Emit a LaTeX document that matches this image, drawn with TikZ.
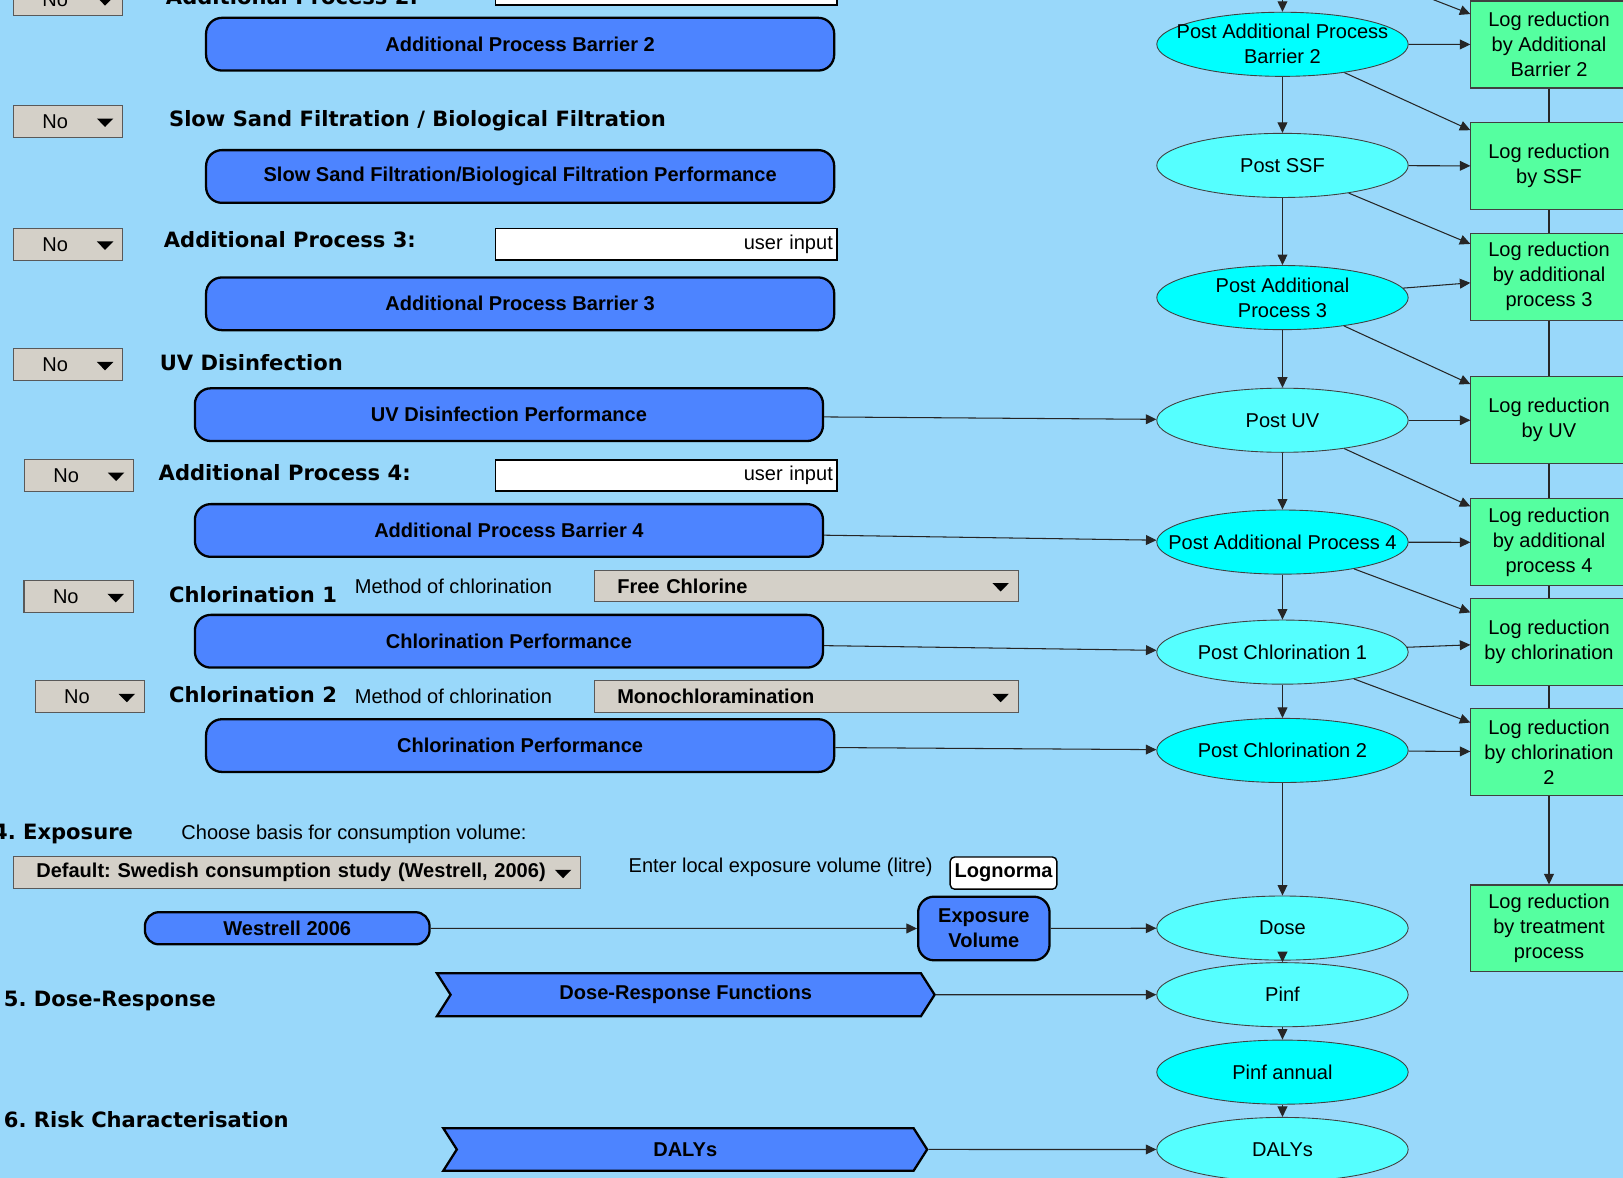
\documentclass[tikz,border=0pt]{standalone}
\usepackage{fontspec}
\setmainfont{Liberation Sans}
\newfontfamily\headfont{DejaVu Sans}
\usetikzlibrary{shapes.geometric,shapes.symbols,arrows.meta}

\definecolor{skyback}{RGB}{153,216,250}
\definecolor{perfblue}{RGB}{77,132,255}
\definecolor{cyanhi}{RGB}{0,255,255}
\definecolor{cyanlo}{RGB}{85,255,255}
\definecolor{logreen}{RGB}{85,255,160}
\definecolor{ddgrey}{RGB}{212,208,200}

\newcommand\txtsize{\fontsize{11.4}{14.2}\selectfont}
\newcommand\headsize{\fontsize{12}{14.4}\selectfont}

\tikzset{
  arr/.style={-{Triangle[length=6pt,width=5.6pt]},line width=0.6pt,black!85},
  link/.style={line width=0.6pt,black!85},
  perfbox/.style={draw,line width=1.3pt,fill=perfblue,rounded corners=9pt,
    minimum width=357.5pt,minimum height=30pt,inner sep=0pt,align=center,
    font=\txtsize\bfseries},
  fnbox/.style={signal,signal from=west,signal to=east,signal pointer angle=115,
    draw,line width=1.3pt,fill=perfblue,minimum height=24.5pt,inner sep=0pt,
    font=\txtsize\bfseries},
  postell/.style={ellipse,draw=black!75,line width=0.5pt,fill=#1,
    minimum width=143.1pt,minimum height=36.5pt,inner sep=0pt},
  elltxt/.style={align=center,inner sep=0pt,font=\txtsize},
  logred/.style={draw=black!75,line width=0.6pt,fill=logreen,minimum width=88.9pt,
    minimum height=49.5pt,inner sep=0pt,align=center,font=\txtsize},
  ddbox/.style={draw=black!65,line width=0.6pt,fill=ddgrey,minimum height=18pt,
    inner ysep=0pt,inner xsep=13pt,text width=#1,align=left,font=\txtsize,
    path picture={\fill[black] ([xshift=-14.7pt,yshift=1.6pt]path picture bounding box.east)
      -- ++(9.4pt,0) -- ++(-4.7pt,-4.8pt) -- cycle;}},
  inbox/.style={draw,line width=0.8pt,fill=white,minimum height=17.7pt,inner ysep=0pt,
    inner xsep=2.4pt,text width=189.6pt,align=right,font=\txtsize},
  headlbl/.style={anchor=base west,inner sep=0pt,font=\headsize\headfont\bfseries},
  plaintxt/.style={anchor=base west,inner sep=0pt,font=\txtsize},
}

\begin{document}
\frenchspacing
\begin{tikzpicture}[x=0.0207cm,y=-0.0207cm]
\useasboundingbox (0,0) rectangle (1568,1138);
\clip (0,0) rectangle (1568,1138);
\fill[skyback] (0,0) rectangle (1568,1138);

% treatment barriers
\node[ddbox=36.2pt] (dd2) at (65.7,0) {\hspace*{3.5pt}No};
\node[headlbl] (lb2) at (160,4.5) {Additional Process 2:};
\node[inbox] (in2) at (643.7,-10) {};
\node[perfbox] (bar2) at (502.5,42.7) {Additional Process Barrier 2};

\node[ddbox=36.2pt] (ddssf) at (65.7,117.2) {\hspace*{3.5pt}No};
\node[headlbl] (lbssf) at (163,122.5) {Slow Sand Filtration / Biological Filtration};
\node[perfbox] (ssf) at (502.5,170.5) {Slow Sand Filtration/Biological Filtration Performance};

\node[ddbox=36.2pt] (dd3) at (65.7,236) {\hspace*{3.5pt}No};
\node[headlbl] (lb3) at (158,239.5) {Additional Process 3:};
\node[inbox] (in3) at (643.7,236) {user input};
\node[perfbox] (bar3) at (502.5,293.5) {Additional Process Barrier 3};

\node[ddbox=36.2pt] (dduv) at (65.7,352.4) {\hspace*{3.5pt}No};
\node[headlbl] (lbuv) at (154,357.5) {UV Disinfection};
\node[perfbox] (uv) at (491.7,400.6) {UV Disinfection Performance};

\node[ddbox=36.2pt] (dd4) at (76.3,459.3) {\hspace*{3.5pt}No};
\node[headlbl] (lb4) at (153,464.4) {Additional Process 4:};
\node[inbox] (in4) at (643.7,459.5) {user input};
\node[perfbox] (bar4) at (491.7,512.5) {Additional Process Barrier 4};

\node[ddbox=36.2pt] (ddcl1) at (76,576.5) {\hspace*{3.5pt}No};
\node[headlbl] (lbcl1) at (163,581.6) {Chlorination 1};
\node[plaintxt] (mcl1) at (342.5,573.3) {Method of chlorination};
\node[ddbox=215.2pt,font=\txtsize\bfseries] (fcl) at (779,566) {Free Chlorine};
\node[perfbox] (cl1) at (491.7,619.5) {Chlorination Performance};

\node[ddbox=36.2pt] (ddcl2) at (86.7,673) {\hspace*{3.5pt}No};
\node[headlbl] (lbcl2) at (163,678.5) {Chlorination 2};
\node[plaintxt] (mcl2) at (342.5,679.3) {Method of chlorination};
\node[ddbox=215.2pt,font=\txtsize\bfseries] (mcl) at (779,673) {Monochloramination};
\node[perfbox] (cl2) at (502.5,720.3) {Chlorination Performance};

% exposure, dose-response, risk
\node[headlbl] (lbexp) at (-7,810.6) {4. Exposure};
\node[plaintxt] (chb) at (175,810.6) {Choose basis for consumption volume:};
\node[ddbox=296.8pt,font=\txtsize\bfseries] (ddexp) at (287,843) {Default: Swedish consumption study (Westrell, 2006)};
\node[plaintxt] (enl) at (607,843) {Enter local exposure volume (litre)};
\node[draw,line width=0.8pt,fill=white,rounded corners=2.5pt,minimum width=60.7pt,
  minimum height=18.3pt,inner sep=0pt,font=\txtsize\bfseries] (logn) at (969.5,843.5) {Lognorma};
\node[perfbox,minimum width=162pt,minimum height=18.3pt,rounded corners=8pt] (west) at (277.5,896.8) {Westrell 2006};
\node[perfbox,minimum width=74.8pt,minimum height=36.2pt] (expvol) at (950.5,897) {Exposure\\Volume};

\node[headlbl] (lbdr) at (3.4,972) {5. Dose-Response};
\node[fnbox,minimum width=283.3pt] (drf) at (662.5,961) {Dose-Response Functions};
\node[headlbl] (lbrisk) at (3.4,1089.5) {6. Risk Characterisation};
\node[fnbox,minimum width=275.4pt,minimum height=24.2pt] (dalyfn) at (662,1110.5) {DALYs};

% model chain
\coordinate (e0) at (1239,-57);
\node[postell=cyanhi,label={[elltxt]center:Post Additional Process\\Barrier 2}] (e1) at (1239,42.8) {};
\node[postell=cyanlo,label={[elltxt]center:Post SSF}] (e2) at (1239,159.8) {};
\node[postell=cyanhi,label={[elltxt]center:Post Additional\\Process 3}] (e3) at (1239,287.5) {};
\node[postell=cyanlo,label={[elltxt]center:Post UV}] (e4) at (1239,406) {};
\node[postell=cyanhi,label={[elltxt]center:Post Additional Process 4}] (e5) at (1239,523.7) {};
\node[postell=cyanlo,label={[elltxt]center:Post Chlorination 1}] (e6) at (1239,630) {};
\node[postell=cyanhi,label={[elltxt]center:Post Chlorination 2}] (e7) at (1239,725) {};
\node[postell=cyanlo,label={[elltxt]center:Dose}] (e8) at (1239,896.6) {};
\node[postell=cyanlo,label={[elltxt]center:Pinf}] (e9) at (1239,961) {};
\node[postell=cyanhi,label={[elltxt]center:Pinf annual}] (e10) at (1239,1035.8) {};
\node[postell=cyanlo,label={[elltxt]center:DALYs}] (e11) at (1239,1110.5) {};

\node[logred] (g1) at (1496.5,43) {Log reduction\\by Additional\\Barrier 2};
\node[logred] (g2) at (1496.5,160.4) {Log reduction\\by SSF};
\node[logred] (g3) at (1496.5,267.3) {Log reduction\\by additional\\process 3};
\node[logred] (g4) at (1496.5,406) {Log reduction\\by UV};
\node[logred] (g5) at (1496.5,524) {Log reduction\\by additional\\process 4};
\node[logred] (g6) at (1496.5,620) {Log reduction\\by chlorination};
\node[logred] (g7) at (1496.5,726.4) {Log reduction\\by chlorination\\2};
\node[logred] (g8) at (1496.5,897) {Log reduction\\by treatment\\process};

\draw[arr] (e0) -- (e1);
\draw[arr] (e0) -- (g1);
\foreach \a/\b in {e1/e2,e2/e3,e3/e4,e4/e5,e5/e6,e6/e7,e7/e8,e8/e9,e9/e10,e10/e11,
  e1/g1,e2/g2,e3/g3,e4/g4,e5/g5,e6/g6,e7/g7,
  e1/g2,e2/g3,e3/g4,e4/g5,e5/g6,e6/g7,g7/g8,
  uv/e4,bar4/e5,cl1/e6,cl2/e7,west/expvol,expvol/e8,drf/e9,dalyfn/e11}
  \draw[arr] (\a) -- (\b);
\foreach \a/\b in {g1/g2,g2/g3,g3/g4,g4/g5,g5/g6,g6/g7}
  \draw[link] (\a) -- (\b);
\end{tikzpicture}
\end{document}
